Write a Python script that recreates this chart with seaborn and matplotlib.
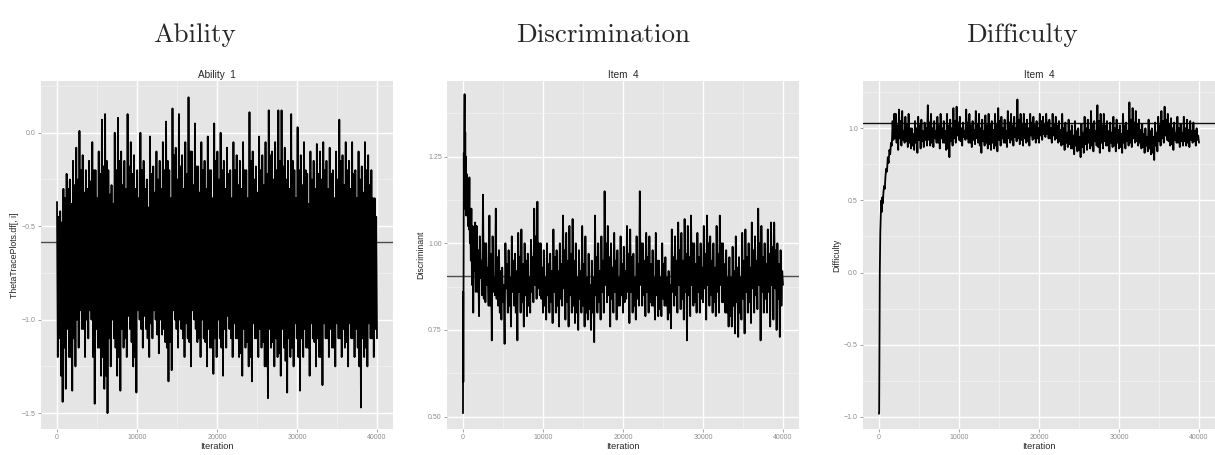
import numpy as np
import pandas as pd
import seaborn as sns
import matplotlib.pyplot as plt

# Ability 1 trace, one block per 400 iterations:
# top spike, inner low, inner high, bottom spike
ability_hi = [-0.37, -0.42, -0.3, -0.22, -0.25, -0.15, -0.08, 0.01, -0.12, -0.2,
              -0.15, -0.05, -0.2, -0.1, 0.07, 0.1, -0.2, -0.28, 0.0, 0.08,
              -0.1, -0.15, 0.1, -0.05, -0.12, -0.2, 0.0, -0.15, -0.25, -0.02,
              -0.18, -0.1, -0.15, -0.05, 0.06, -0.2, 0.13, -0.08, 0.1, -0.12,
              -0.05, 0.19, -0.1, 0.05, -0.18, -0.05, -0.15, -0.02, -0.2, 0.05,
              -0.1, 0.0, -0.15, -0.08, -0.2, -0.05, -0.12, -0.15, -0.05, -0.2,
              0.11, -0.1, -0.18, -0.02, -0.12, -0.05, 0.12, -0.1, -0.05, 0.12,
              0.12, -0.08, -0.15, 0.1, -0.2, 0.03, -0.12, -0.05, -0.22, -0.1,
              -0.15, -0.06, -0.1, -0.05, -0.15, -0.08, -0.2, -0.1, 0.07, -0.12,
              -0.05, -0.15, -0.05, -0.2, -0.1, -0.18, -0.05, -0.12, -0.2, -0.35]
ability_lo = [-1.1, -1.44, -1.37, -1.2, -1.38, -1.25, -1.15, -1.05, -1.2, -1.1,
              -1.0, -1.45, -1.15, -1.3, -1.37, -1.5, -1.25, -1.1, -1.3, -1.38,
              -1.15, -1.2, -1.05, -1.25, -1.39, -1.0, -1.15, -1.05, -1.2, -1.1,
              -1.0, -1.18, -1.08, -1.12, -1.33, -1.27, -1.0, -1.15, -1.05, -1.2,
              -1.1, -1.25, -1.0, -1.12, -1.2, -1.1, -1.25, -1.15, -1.29, -1.2,
              -1.1, -1.3, -1.15, -1.05, -1.2, -1.1, -1.2, -1.3, -1.15, -1.25,
              -1.33, -1.1, -1.2, -1.15, -1.25, -1.42, -1.15, -1.25, -1.2, -1.3,
              -1.15, -1.39, -1.2, -1.25, -1.1, -1.38, -1.2, -1.15, -1.3, -1.1,
              -1.25, -1.2, -1.35, -1.1, -1.2, -1.15, -1.25, -1.1, -1.2, -1.15,
              -1.25, -1.1, -1.2, -1.15, -1.47, -1.2, -1.25, -1.1, -1.2, -1.1]
ability_mid_hi = [-0.45, -0.48, -0.35, -0.3, -0.38, -0.28, -0.25, -0.2, -0.32, -0.3,
                  -0.26, -0.2, -0.35, -0.22, -0.18, -0.15, -0.33, -0.38, -0.2, -0.15,
                  -0.28, -0.3, -0.18, -0.22, -0.3, -0.35, -0.2, -0.3, -0.4, -0.22,
                  -0.32, -0.25, -0.3, -0.2, -0.15, -0.35, -0.12, -0.25, -0.18, -0.3,
                  -0.22, -0.1, -0.28, -0.18, -0.32, -0.2, -0.3, -0.2, -0.35, -0.15,
                  -0.25, -0.2, -0.3, -0.22, -0.35, -0.2, -0.28, -0.3, -0.2, -0.35,
                  -0.15, -0.25, -0.32, -0.2, -0.28, -0.22, -0.12, -0.25, -0.2, -0.15,
                  -0.18, -0.25, -0.3, -0.15, -0.35, -0.2, -0.28, -0.2, -0.38, -0.25,
                  -0.3, -0.22, -0.25, -0.2, -0.3, -0.22, -0.35, -0.25, -0.15, -0.28,
                  -0.2, -0.3, -0.22, -0.35, -0.25, -0.32, -0.2, -0.28, -0.35, -0.45]
ability_mid_lo = [-1.2, -1.3, -1.15, -1.05, -1.2, -1.1, -1.0, -0.95, -1.05, -1.0,
                  -0.95, -1.2, -1.05, -1.15, -1.2, -1.3, -1.1, -1.0, -1.15, -1.2,
                  -1.05, -1.1, -0.98, -1.12, -1.2, -0.95, -1.05, -0.98, -1.1, -1.02,
                  -0.95, -1.08, -1.0, -1.05, -1.15, -1.12, -0.95, -1.05, -1.0, -1.1,
                  -1.02, -1.12, -0.95, -1.05, -1.1, -1.0, -1.12, -1.05, -1.15, -1.1,
                  -1.0, -1.15, -1.05, -0.98, -1.1, -1.02, -1.1, -1.18, -1.05, -1.12,
                  -1.2, -1.02, -1.1, -1.05, -1.12, -1.25, -1.05, -1.12, -1.1, -1.18,
                  -1.05, -1.22, -1.1, -1.15, -1.02, -1.2, -1.1, -1.05, -1.15, -1.02,
                  -1.12, -1.1, -1.2, -1.02, -1.1, -1.05, -1.15, -1.02, -1.1, -1.05,
                  -1.12, -1.02, -1.1, -1.05, -1.25, -1.1, -1.15, -1.02, -1.1, -1.05]
ability_mean = -0.584

# Item 4 discrimination: burn-in, then blocks of 400 iterations
disc_burn_iter = [0, 20, 40, 60, 80, 100, 130, 160, 200, 240, 280, 320, 360, 400, 450, 500,
                  560, 620, 680, 740, 800, 860, 920, 980, 1050, 1120, 1200, 1280, 1360, 1440, 1520, 1600]
disc_burn_val = [0.51, 0.86, 0.6, 0.75, 1.0, 1.26, 1.1, 1.3, 1.43, 1.15, 1.32, 1.12, 1.25, 1.08, 1.2, 1.1,
                 1.18, 1.05, 1.12, 1.04, 1.19, 1.0, 1.08, 0.95, 1.1, 0.88, 1.05, 0.8, 1.02, 0.92, 1.06, 0.86]
disc_hi = [1.05, 1.02, 1.14, 1.0, 1.08, 1.02, 1.1, 0.98, 0.93, 1.0, 0.98, 1.02,
           0.97, 1.03, 1.04, 1.0, 0.97, 1.01, 1.1, 1.12, 1.0, 0.98, 1.0, 0.97,
           1.04, 0.98, 1.0, 1.08, 1.03, 1.05, 1.07, 1.0, 0.98, 1.05, 1.02, 0.97,
           0.95, 1.08, 1.0, 1.02, 1.15, 1.05, 1.0, 1.03, 0.98, 1.02, 0.99, 1.05,
           1.04, 0.97, 1.02, 1.15, 1.0, 1.03, 1.02, 0.98, 1.03, 0.95, 1.0, 0.96,
           0.92, 1.04, 1.02, 1.06, 1.03, 1.07, 1.05, 1.08, 1.0, 1.03, 1.0, 1.05,
           1.08, 1.02, 1.0, 1.05, 1.08, 1.0, 0.98, 0.96, 0.99, 1.02, 0.96, 1.03,
           1.04, 1.0, 1.06, 1.02, 1.1, 1.05, 1.0, 1.04, 1.06, 1.06, 1.0, 0.98]
disc_lo = [0.79, 0.85, 0.83, 0.82, 0.72, 0.85, 0.82, 0.78, 0.71, 0.8, 0.76, 0.82,
           0.72, 0.8, 0.76, 0.79, 0.8, 0.83, 0.84, 0.85, 0.8, 0.78, 0.8, 0.77,
           0.8, 0.76, 0.82, 0.78, 0.76, 0.8, 0.77, 0.75, 0.8, 0.76, 0.78, 0.75,
           0.715, 0.8, 0.78, 0.8, 0.83, 0.76, 0.8, 0.78, 0.82, 0.8, 0.84, 0.77,
           0.8, 0.78, 0.82, 0.82, 0.79, 0.8, 0.82, 0.78, 0.79, 0.79, 0.82, 0.78,
           0.755, 0.82, 0.8, 0.81, 0.78, 0.72, 0.79, 0.82, 0.8, 0.8, 0.83, 0.78,
           0.82, 0.8, 0.79, 0.8, 0.83, 0.8, 0.76, 0.76, 0.74, 0.73, 0.78, 0.74,
           0.8, 0.77, 0.8, 0.81, 0.72, 0.8, 0.8, 0.76, 0.78, 0.75, 0.73, 0.88]
disc_mid_hi = [0.98, 0.95, 1.0, 0.93, 0.97, 0.9, 0.96, 0.92, 0.88, 0.94, 0.9, 0.95,
               0.92, 0.96, 0.94, 0.95, 0.9, 0.96, 1.02, 1.0, 0.93, 0.9, 0.94, 0.92,
               0.96, 0.92, 0.94, 0.98, 0.95, 0.97, 0.95, 0.9, 0.92, 0.94, 0.9, 0.88,
               0.9, 0.96, 0.92, 0.95, 1.0, 0.96, 0.93, 0.95, 0.9, 0.94, 0.92, 0.97,
               0.96, 0.9, 0.94, 1.0, 0.95, 0.96, 0.94, 0.9, 0.95, 0.9, 0.94, 0.9,
               0.88, 0.96, 0.95, 0.98, 0.95, 0.97, 0.96, 1.0, 0.94, 0.96, 0.93, 0.97,
               1.0, 0.95, 0.93, 0.97, 1.0, 0.94, 0.9, 0.9, 0.92, 0.93, 0.9, 0.95,
               0.96, 0.93, 0.98, 0.95, 1.0, 0.96, 0.94, 0.97, 0.99, 0.98, 0.94, 0.92]
disc_mid_lo = [0.86, 0.9, 0.84, 0.88, 0.82, 0.86, 0.84, 0.8, 0.83, 0.87, 0.82, 0.86,
               0.8, 0.86, 0.83, 0.85, 0.82, 0.86, 0.88, 0.87, 0.84, 0.82, 0.85, 0.83,
               0.86, 0.82, 0.84, 0.87, 0.83, 0.85, 0.82, 0.8, 0.84, 0.82, 0.8, 0.81,
               0.8, 0.85, 0.83, 0.86, 0.88, 0.85, 0.84, 0.86, 0.82, 0.85, 0.83, 0.86,
               0.86, 0.82, 0.84, 0.88, 0.85, 0.86, 0.83, 0.82, 0.85, 0.81, 0.84, 0.82,
               0.8, 0.86, 0.85, 0.88, 0.84, 0.86, 0.85, 0.88, 0.83, 0.86, 0.84, 0.87,
               0.88, 0.85, 0.83, 0.86, 0.88, 0.83, 0.8, 0.79, 0.82, 0.83, 0.8, 0.84,
               0.86, 0.83, 0.87, 0.85, 0.88, 0.86, 0.84, 0.86, 0.88, 0.87, 0.84, 0.82]
disc_mean = 0.907

# Item 4 difficulty: burn-in, then blocks of 400 iterations
diff_burn_iter = [0, 20, 40, 60, 80, 100, 130, 160, 200, 250, 300, 350, 400, 480, 560,
                  640, 720, 800, 900, 1000, 1100, 1200, 1300, 1400, 1500, 1600, 1700, 1800, 1900, 2000]
diff_burn_val = [-0.98, -0.96, -0.78, -0.5, -0.25, 0.0, 0.18, 0.28, 0.36, 0.45, 0.5, 0.42, 0.52, 0.48, 0.56,
                 0.6, 0.58, 0.66, 0.72, 0.7, 0.8, 0.76, 0.85, 0.82, 0.9, 0.88, 1.05, 0.92, 1.1, 0.93]
diff_hi = [1.1, 1.13, 1.12, 1.08, 1.1, 1.0, 1.05, 1.08, 1.06, 1.04,
           1.16, 1.1, 1.05, 1.08, 1.1, 1.05, 1.1, 1.06, 1.14, 1.15,
           1.08, 1.04, 1.13, 1.1, 1.05, 1.12, 1.1, 1.06, 1.09, 1.1,
           1.05, 1.1, 1.14, 1.08, 1.06, 1.12, 1.1, 1.08, 1.2, 1.1,
           1.1, 1.06, 1.1, 1.08, 1.05, 1.1, 1.08, 1.1, 1.06, 1.1,
           1.08, 1.05, 1.1, 1.04, 1.06, 1.02, 1.05, 1.0, 1.03, 1.08,
           1.06, 1.12, 1.05, 1.16, 1.1, 1.1, 1.05, 1.04, 1.08, 1.06,
           1.02, 1.1, 1.04, 1.18, 1.14, 1.12, 1.06, 1.03, 1.0, 1.06,
           1.0, 1.04, 1.08, 1.12, 1.15, 1.1, 1.07, 1.04, 1.08, 1.03,
           1.08, 1.06, 1.05, 1.04, 1.0]
diff_lo = [0.85, 0.88, 0.9, 0.87, 0.86, 0.85, 0.83, 0.86, 0.87, 0.88,
           0.88, 0.87, 0.9, 0.86, 0.9, 0.85, 0.8, 0.88, 0.9, 0.92,
           0.88, 0.92, 0.9, 0.87, 0.89, 0.9, 0.83, 0.88, 0.86, 0.85,
           0.86, 0.84, 0.88, 0.9, 0.87, 0.9, 0.88, 0.91, 0.89, 0.88,
           0.9, 0.88, 0.92, 0.9, 0.9, 0.92, 0.94, 0.93, 0.9, 0.92,
           0.9, 0.88, 0.85, 0.87, 0.86, 0.82, 0.84, 0.8, 0.83, 0.85,
           0.86, 0.84, 0.88, 0.83, 0.86, 0.88, 0.84, 0.87, 0.84, 0.86,
           0.83, 0.86, 0.88, 0.87, 0.9, 0.88, 0.86, 0.83, 0.84, 0.82,
           0.78, 0.84, 0.88, 0.9, 0.92, 0.88, 0.85, 0.9, 0.87, 0.88,
           0.88, 0.87, 0.9, 0.88, 0.9]
diff_mid_hi = [1.02, 1.05, 0.98, 1.03, 1.0, 0.96, 1.0, 1.02, 0.98, 1.0,
               1.04, 1.0, 0.98, 1.02, 1.0, 0.98, 1.02, 1.0, 1.05, 1.04,
               1.0, 0.98, 1.04, 1.02, 0.99, 1.03, 1.0, 0.98, 1.02, 1.03,
               0.99, 1.03, 1.05, 1.0, 0.98, 1.04, 1.02, 1.0, 1.06, 1.03,
               1.03, 1.0, 1.04, 1.02, 1.0, 1.05, 1.03, 1.04, 1.0, 1.03,
               1.02, 0.99, 1.0, 0.97, 0.98, 0.95, 0.98, 0.94, 0.97, 1.0,
               0.99, 1.03, 0.98, 1.05, 1.02, 1.02, 0.98, 0.97, 1.0, 0.99,
               0.96, 1.02, 0.98, 1.06, 1.04, 1.03, 0.99, 0.96, 0.94, 0.98,
               0.94, 0.97, 1.02, 1.05, 1.06, 1.03, 1.0, 0.97, 1.0, 0.97,
               1.0, 0.99, 0.98, 0.98, 0.95]
diff_mid_lo = [0.9, 0.93, 0.92, 0.91, 0.9, 0.88, 0.9, 0.92, 0.91, 0.92,
               0.92, 0.9, 0.93, 0.9, 0.93, 0.9, 0.86, 0.91, 0.93, 0.95,
               0.91, 0.94, 0.93, 0.9, 0.92, 0.93, 0.88, 0.91, 0.9, 0.89,
               0.9, 0.88, 0.92, 0.93, 0.9, 0.93, 0.92, 0.94, 0.93, 0.92,
               0.93, 0.91, 0.95, 0.93, 0.93, 0.95, 0.96, 0.96, 0.93, 0.95,
               0.93, 0.91, 0.89, 0.9, 0.89, 0.86, 0.88, 0.85, 0.87, 0.89,
               0.9, 0.88, 0.91, 0.87, 0.9, 0.91, 0.88, 0.9, 0.88, 0.9,
               0.87, 0.9, 0.91, 0.9, 0.93, 0.91, 0.9, 0.87, 0.88, 0.86,
               0.83, 0.88, 0.91, 0.93, 0.95, 0.91, 0.89, 0.92, 0.9, 0.91,
               0.91, 0.9, 0.92, 0.91, 0.92]
diff_mean = 1.035

N_ITER = 40000


def trace_frame(hi, lo, mid_hi, mid_lo, start, burn_iter=None, burn_val=None):
    # each block: up to a spike, down, up, down to a trough
    vals = []
    for k in range(len(hi)):
        vals += [hi[k], mid_lo[k], mid_hi[k], lo[k]]
    vals = np.array(vals)
    if burn_iter is None:
        it = np.linspace(start, N_ITER, len(vals))
    else:
        it = np.linspace(start, N_ITER, len(vals) + 1)[1:]
        it = np.concatenate([burn_iter, it])
        vals = np.concatenate([burn_val, vals])
    return pd.DataFrame({'Iteration': it, 'value': vals})


sns.set_style('darkgrid', {'axes.facecolor': '#E5E5E5', 'grid.color': 'white'})
plt.rcParams['font.family'] = ['Liberation Sans', 'DejaVu Sans']

fig = plt.figure(figsize=(12.15, 4.55), dpi=100)

panels = [
    dict(df=trace_frame(ability_hi, ability_lo, ability_mid_hi, ability_mid_lo, 0),
         mean=ability_mean, hcol='#4d4d4d',
         title='Ability  1', ylabel='ThetaTracePlots.df[, i]',
         ylim=(-1.585, 0.277), yticks=[-1.5, -1.0, -0.5, 0.0], fmt='{:.1f}', ystep=0.25,
         left=41, top_title='Ability', tx=194),
    dict(df=trace_frame(disc_hi, disc_lo, disc_mid_hi, disc_mid_lo, 1600, disc_burn_iter, disc_burn_val),
         mean=disc_mean, hcol='#4d4d4d',
         title='Item  4', ylabel='Discriminant',
         ylim=(0.4645, 1.468), yticks=[0.5, 0.75, 1.0, 1.25], fmt='{:.2f}', ystep=0.125,
         left=447, top_title='Discrimination', tx=603),
    dict(df=trace_frame(diff_hi, diff_lo, diff_mid_hi, diff_mid_lo, 2000, diff_burn_iter, diff_burn_val),
         mean=diff_mean, hcol='#111111',
         title='Item  4', ylabel='Difficulty',
         ylim=(-1.085, 1.328), yticks=[-1.0, -0.5, 0.0, 0.5, 1.0], fmt='{:.1f}', ystep=0.25,
         left=863, top_title='Difficulty', tx=1022),
]

W, H = 1215, 455
for p in panels:
    ax = fig.add_axes([p['left'] / W, (H - 429) / H, 352 / W, 348 / H])
    ax.axhline(p['mean'], color=p['hcol'], linewidth=1.0, zorder=1.5)
    sns.lineplot(data=p['df'], x='Iteration', y='value', ax=ax, estimator=None, sort=False,
                 color='black', linewidth=1.3, zorder=2)
    ax.set_xlim(-2000, 42000)
    ax.set_ylim(*p['ylim'])
    ax.set_xticks([0, 10000, 20000, 30000, 40000])
    ax.set_xticklabels(['0', '10000', '20000', '30000', '40000'])
    ax.set_yticks(p['yticks'])
    ax.set_yticklabels([p['fmt'].format(v).replace('-', '\u2212') for v in p['yticks']])
    lo, hi = p['ylim']
    st = p['ystep']
    minors = [v for v in np.arange(-2.0, 2.0, st * 2) + st if lo < v < hi]
    ax.set_yticks(minors, minor=True)
    ax.set_xticks([5000, 15000, 25000, 35000], minor=True)
    ax.grid(which='major', color='white', linewidth=1.0)
    ax.grid(which='minor', color='#F2F2F2', linewidth=0.5)
    ax.set_axisbelow(True)
    for s in ax.spines.values():
        s.set_visible(False)
    ax.tick_params(which='major', length=2.2, width=0.5, color='#7f7f7f', labelcolor='#8c8c8c',
                   labelsize=5.0, pad=1.5, bottom=True, left=True)
    ax.tick_params(which='minor', length=0)
    ax.set_xlabel('Iteration', fontsize=6.6, labelpad=0.5)
    ax.set_ylabel(p['ylabel'], fontsize=6.3, labelpad=2)
    ax.set_title(p['title'], fontsize=7.2, pad=2)
    fig.text(p['tx'] / W, 1 - 35 / H, p['top_title'], fontfamily='cmr10', fontsize=19.5,
             ha='center', va='center')

fig.savefig('out.png', dpi=100, facecolor='white')
